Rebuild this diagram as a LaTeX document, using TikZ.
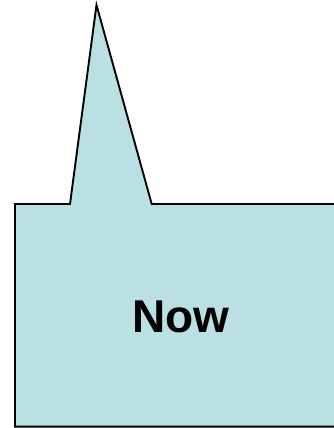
\documentclass[tikz,border=0pt]{standalone}
\usepackage{fontspec}
\setmainfont{Liberation Sans}
\definecolor{calloutFill}{RGB}{187,224,227}
\definecolor{calloutStroke}{RGB}{0,0,0}
\tikzset{
  callout/.style={fill=calloutFill,draw=calloutStroke,line width=1.9pt,line join=miter},
  calloutText/.style={font=\fontsize{46}{50}\selectfont\bfseries,text=black}
}

\begin{document}
\begin{tikzpicture}[x=1pt,y=1pt]
  \useasboundingbox (0,0) rectangle (334,428);
  \clip (0,0) rectangle (334,428);
  \draw[callout] (15,1.3) -- (15,224) -- (70,224) -- (96.5,423)
    -- (151.7,224) -- (360,224) -- (360,1.3) -- cycle;
  \node[calloutText] (now) at (181,111) {Now};
\end{tikzpicture}
\end{document}
